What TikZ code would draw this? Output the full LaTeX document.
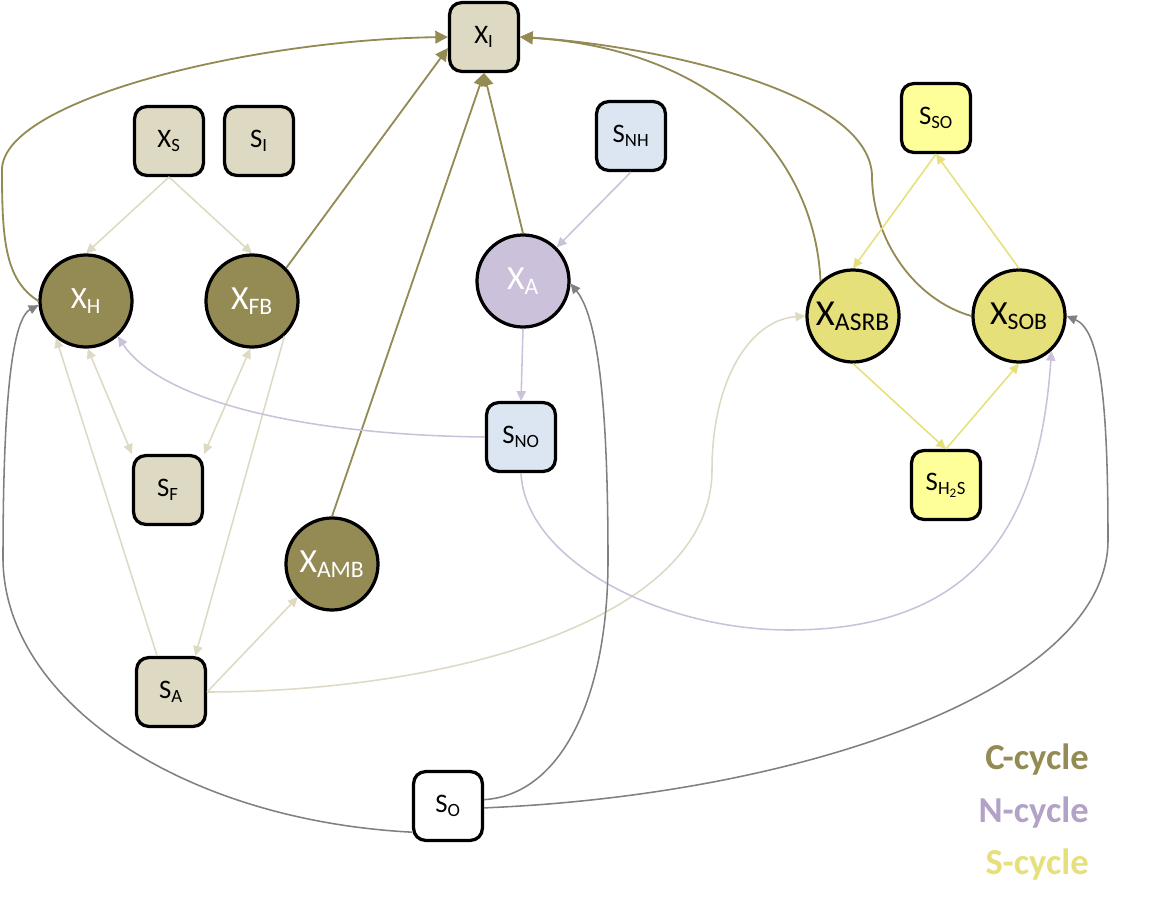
\documentclass[tikz,border=0pt]{standalone}
\usepackage{fontspec}
\setmainfont{Carlito}
\usepackage{tikz}
\usetikzlibrary{shapes,arrows.meta}
\usepackage{color}

\definecolor{colC}{HTML}{948A54}
\definecolor{colCl}{HTML}{DDD9C3}
\definecolor{colN}{HTML}{CCC1DA}
\definecolor{colNt}{HTML}{B3A2C7}
\definecolor{colNb}{HTML}{DCE6F2}
\definecolor{colS}{HTML}{E6E07A}
\definecolor{colSb}{HTML}{FFFF99}
\definecolor{colO}{HTML}{808080}

\begin{document}
\begin{tikzpicture}[x=0.025cm, y=-0.025cm,
    box/.style={draw=black, line width=2.3pt, rounded corners=0.3cm,
      minimum size=1.72cm, inner sep=0pt,
      font=\fontsize{19}{22}\selectfont},
    cbox/.style={box, fill=colCl},
    nbox/.style={box, fill=colNb},
    sbox/.style={box, fill=colSb},
    obox/.style={box, fill=white},
    bug/.style={circle, draw=black, line width=2.3pt, minimum size=2.3cm,
      inner sep=0pt, font=\fontsize{24}{28}\selectfont},
    cbug/.style={bug, fill=colC, text=white},
    nbug/.style={bug, fill=colN, text=white},
    sbug/.style={bug, fill=colS, text=black},
    carrow/.style={draw=colC, line width=1.3pt, -{Triangle[length=9pt,width=9pt]}},
    clarrow/.style={draw=colCl, line width=1.1pt, -{Triangle[length=7pt,width=6.5pt]}},
    narrow/.style={draw=colN, line width=1.1pt, -{Triangle[length=7pt,width=6.5pt]}},
    sarrow/.style={draw=colS, line width=1.1pt, -{Triangle[length=7pt,width=6.5pt]}},
    oarrow/.style={draw=colO, line width=1.1pt, -{Triangle[length=7pt,width=6.5pt]}},
    legend/.style={anchor=east, inner sep=0pt, font=\fontsize{26}{30}\selectfont\bfseries}]
  \useasboundingbox (0,0) rectangle (1176,905);

  % substrates
  \node[cbox] (XI) at (484,37) {X\textsubscript{I}};
  \node[cbox] (XS) at (169,141) {X\textsubscript{S}};
  \node[cbox] (SI) at (259,141) {S\textsubscript{I}};
  \node[cbox] (SF) at (168,490) {S\textsubscript{F}};
  \node[cbox] (SA) at (171,692) {S\textsubscript{A}};
  \node[nbox] (SNH) at (631,136) {S\textsubscript{NH}};
  \node[nbox] (SNO) at (521,437) {S\textsubscript{NO}};
  \node[sbox] (SSO) at (936,118) {S\textsubscript{SO}};
  \node[sbox] (SHS) at (946,485) {S\textsubscript{H\textsubscript{2}S}};
  \node[obox] (SO) at (448,806) {S\textsubscript{O}};

  % biomasses
  \node[cbug, font=\fontsize{22}{26}\selectfont] (XH) at (86,301) {X\textsubscript{H}};
  \node[cbug] (XFB) at (252,301) {X\textsubscript{FB}};
  \node[cbug] (XAMB) at (332,564) {X\textsubscript{AMB}};
  \node[nbug] (XA) at (523,281) {X\textsubscript{A}};
  \node[sbug, font=\fontsize{26}{30}\selectfont] (XASRB) at (853,316) {X\textsubscript{ASRB}};
  \node[sbug] (XSOB) at (1019,316) {X\textsubscript{SOB}};

  % C-cycle
  \draw[carrow] (XH.180) .. controls (5,280) and (2,240) .. (2,170)
    .. controls (2,100) and (250,40) .. (XI.west);
  \draw[carrow] (XFB.44) -- (XI.197);
  \draw[carrow] (XAMB.north) -- (XI.south);
  \draw[carrow] (XA.north) -- (XI.south);
  \draw[carrow] (XASRB.133) .. controls (815,160) and (720,50) .. (XI.east);
  \draw[carrow] (XSOB.west) .. controls (915,300) and (872,240) .. (872,175)
    .. controls (868,90) and (650,45) .. (XI.east);
  \draw[clarrow] (XS.south) -- (XH.north);
  \draw[clarrow] (XS.south) -- (XFB.north);
  \draw[clarrow, {Triangle[length=7pt,width=6.5pt]}-{Triangle[length=7pt,width=6.5pt]}] (XH.-88) -- (SF.north west);
  \draw[clarrow, {Triangle[length=7pt,width=6.5pt]}-{Triangle[length=7pt,width=6.5pt]}] (XFB.-92) -- (SF.north east);
  \draw[clarrow] (SA.111) -- (XH.231);
  \draw[clarrow] (XFB.-47) -- (SA.56);
  \draw[clarrow] (SA.east) -- (XAMB.224);
  \draw[clarrow] (SA.east) .. controls (450,692) and (712,620) .. (712,470)
    .. controls (712,380) and (750,320) .. (XASRB.west);

  % N-cycle
  \draw[narrow] (SNH.south) -- (XA.45);
  \draw[narrow] (XA.south) -- (SNO.north);
  \draw[narrow] (SNO.west) .. controls (300,435) and (160,400) .. (XH.-48);
  \draw[narrow] (SNO.south) .. controls (525,560) and (660,630) .. (789,630)
    .. controls (980,630) and (1040,520) .. (XSOB.-47);

  % S-cycle
  \draw[sarrow] (SSO.south) -- (XASRB.north);
  \draw[sarrow] (XSOB.north) -- (SSO.south);
  \draw[sarrow] (XASRB.south) -- (SHS.north);
  \draw[sarrow] (SHS.north) -- (XSOB.south);

  % oxygen
  \draw[oarrow] (SO.216) .. controls (180,820) and (5,700) .. (3,560)
    .. controls (3,420) and (10,320) .. (XH.185);
  \draw[oarrow] (SO.10) .. controls (560,795) and (608,700) .. (608,560)
    .. controls (608,420) and (600,320) .. (XA.-3);
  \draw[oarrow] (SO.-3) .. controls (800,795) and (1108,690) .. (1108,540)
    .. controls (1108,400) and (1100,330) .. (XSOB.east);

  % labels
  \node[legend, text=colC] (legC) at (1089,760) {C-cycle};
  \node[legend, text=colNt] (legN) at (1089,813) {N-cycle};
  \node[legend, text=colS] (legS) at (1089,865) {S-cycle};
\end{tikzpicture}
\end{document}
